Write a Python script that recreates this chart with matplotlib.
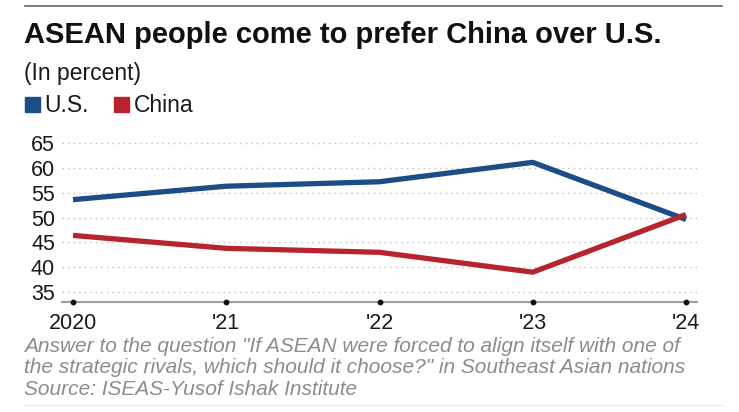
import matplotlib
matplotlib.use("Agg")
import matplotlib.pyplot as plt
from matplotlib.patches import Rectangle
from matplotlib.lines import Line2D

plt.rcParams['font.family'] = ['Liberation Sans', 'DejaVu Sans']

years = [2020, 2021, 2022, 2023, 2024]
year_labels = ["2020", "'21", "'22", "'23", "'24"]
us = [53.6, 56.3, 57.2, 61.1, 49.6]
china = [46.4, 43.8, 43.0, 39.0, 50.6]
yticks = [35, 40, 45, 50, 55, 60, 65]

BLUE = "#1c4d86"
RED = "#b8242e"
W, H = 739, 412

fig = plt.figure(figsize=(W / 100, H / 100), dpi=100)
ax = fig.add_axes([62 / W, 1 - 302 / H, (697 - 62) / W, (302 - 140) / H])

ax.plot(years, us, color=BLUE, lw=3.8, solid_capstyle="butt", zorder=3)
ax.plot(years, china, color=RED, lw=3.8, solid_capstyle="butt", zorder=3)

ax.set_xlim(2019.928, 2024.072)
ax.set_ylim(33.0, 65.6)
ax.set_yticks(yticks)
ax.set_xticks(years)
ax.set_xticklabels(year_labels)
ax.tick_params(axis="both", length=0, labelsize=15.5, colors="#1a1a1a")
ax.tick_params(axis="y", pad=5)
ax.tick_params(axis="x", pad=8)
ax.grid(axis="y", color="#bdbdbd", linestyle=(0, (1, 3)), lw=1.0)
for s in ["left", "right", "top"]:
    ax.spines[s].set_visible(False)
ax.spines["bottom"].set_color("#a0a0a0")
ax.spines["bottom"].set_linewidth(1.5)
ax.plot(years, [0] * len(years), "o", color="#111111", ms=3.2,
        transform=ax.get_xaxis_transform(), clip_on=False, zorder=4)

# header
fig.add_artist(Line2D([25 / W, 722 / W], [1 - 6 / H] * 2, color="#666666", lw=1.2))
fig.text(24 / W, 1 - 43 / H, "ASEAN people come to prefer China over U.S.",
         fontsize=21, fontweight="bold", color="#111111", va="baseline")
fig.text(24 / W, 1 - 80 / H, "(In percent)", fontsize=16.5, color="#1a1a1a", va="baseline")

# legend
fig.add_artist(Rectangle((25 / W, 1 - 112 / H), 15 / W, 15 / H, color=BLUE))
fig.text(44 / W, 1 - 112 / H, "U.S.", fontsize=16.5, color="#1a1a1a", va="baseline")
fig.add_artist(Rectangle((114 / W, 1 - 112 / H), 15 / W, 15 / H, color=RED))
fig.text(134 / W, 1 - 112 / H, "China", fontsize=16.5, color="#1a1a1a", va="baseline")

# notes
note1 = "Answer to the question \"If ASEAN were forced to align itself with one of"
note2 = "the strategic rivals, which should it choose?\" in Southeast Asian nations"
source = "Source: ISEAS-Yusof Ishak Institute"
for txt, base in [(note1, 352), (note2, 373), (source, 395)]:
    fig.text(24 / W, 1 - base / H, txt, fontsize=15, style="italic",
             color="#8c8c8c", va="baseline")
fig.add_artist(Line2D([25 / W, 722 / W], [1 - 405 / H] * 2, color="#e6e6e6", lw=1.0))

fig.savefig("out.png", dpi=100)
